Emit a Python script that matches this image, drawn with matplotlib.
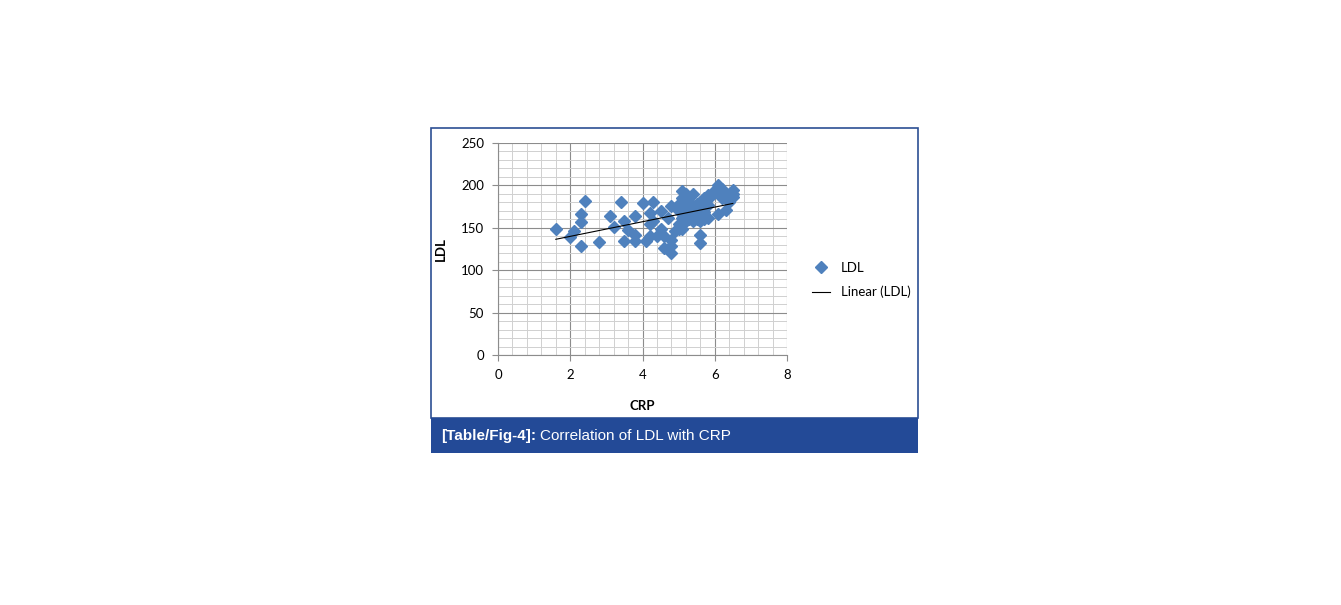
import numpy as np
import matplotlib
matplotlib.use('Agg')
import matplotlib.pyplot as plt
from matplotlib.patches import Rectangle
from matplotlib.lines import Line2D

# CRP vs LDL values
crp = [1.6, 2.0, 2.1, 2.3, 2.3, 2.3, 2.4, 2.8, 3.1, 3.2, 3.4, 3.5, 3.5, 3.6, 3.8, 3.8, 3.8,
       4.0, 4.1, 4.2, 4.2, 4.3, 4.3, 4.2, 4.4, 4.5, 4.5, 4.6, 4.6, 4.7, 4.8, 4.8, 4.8, 4.8,
       4.9, 5.0, 5.1, 5.1, 5.2, 5.2, 5.1, 5.1, 5.1, 5.2, 5.3, 5.4, 5.4, 5.4, 5.5, 5.6, 5.6,
       5.6, 5.6, 5.7, 5.8, 5.8, 5.8, 5.9, 6.1, 6.1, 6.1, 6.2, 6.3, 6.3, 6.5, 6.5, 6.5, 6.4,
       6.2, 6.0, 5.0, 5.1, 5.2, 5.3, 5.3, 5.0, 5.2, 5.3, 5.4, 5.5, 5.5, 5.6, 5.7, 5.7, 5.0, 5.1]
ldl = [149, 139, 146, 129, 157, 166, 182, 133, 164, 151, 180, 158, 135, 147, 164, 141, 134,
       179, 135, 167, 154, 181, 158, 140, 140, 170, 149, 140, 126, 162, 176, 128, 120, 136,
       146, 149, 193, 185, 181, 173, 169, 154, 148, 158, 166, 190, 176, 158, 166, 181, 158,
       142, 132, 169, 189, 177, 162, 188, 200, 193, 166, 185, 171, 188, 195, 186, 190, 181,
       196, 195, 155, 162, 165, 172, 180, 178, 190, 160, 168, 178, 160, 175, 185, 160, 170, 176]

xticks = [0, 2, 4, 6, 8]
yticks = [0, 50, 100, 150, 200, 250]

W, H = 1341, 605
fig = plt.figure(figsize=(W/100, H/100), dpi=100)
fig.patch.set_facecolor('white')

# frame box and caption band (behind the axes)
fig.patches.append(Rectangle((431/W, 1-418/H), 487/W, 290/H, transform=fig.transFigure,
                             facecolor='white', edgecolor='#2c4f94', lw=1.2, zorder=-5))
fig.patches.append(Rectangle((431/W, 1-453/H), 487/W, 35/H, transform=fig.transFigure,
                             facecolor='#234a97', edgecolor='none', zorder=-4))
fig.text(441/W, 1-436/H, '[Table/Fig-4]:', color='white', fontsize=11, fontweight='bold',
         family='Liberation Sans', va='center')
fig.text(540/W, 1-436/H, 'Correlation of LDL with CRP', color='white', fontsize=11,
         family='Liberation Sans', va='center')

ax = fig.add_axes([498/W, 1-355/H, 289/W, 212/H])
ax.patch.set_alpha(0)
ax.set_xlim(0, 8)
ax.set_ylim(0, 250)
ax.set_xticks(xticks)
ax.set_yticks(yticks)
ax.set_xticks(np.arange(0, 8.01, 0.4), minor=True)
ax.set_yticks(np.arange(0, 250.1, 10), minor=True)
ax.grid(which='minor', color='#d0d0d0', lw=0.7)
ax.grid(which='major', color='#8c8c8c', lw=0.8)
ax.set_axisbelow(True)
for s in ['top', 'right']:
    ax.spines[s].set_visible(False)
for s in ['left', 'bottom']:
    ax.spines[s].set_color('#8c8c8c')
ax.tick_params(which='minor', length=0)
ax.tick_params(which='major', length=4, color='#8c8c8c', labelsize=9.5, pad=6)
for lab in ax.get_xticklabels() + ax.get_yticklabels():
    lab.set_family('Lato')

ax.plot(crp, ldl, 'D', color='#4f81bd', ms=6.3, mec='#4f81bd', label='LDL')
m, b = np.polyfit(crp, ldl, 1)
xs = np.array([min(crp), max(crp)])
ax.plot(xs, m*xs + b, color='black', lw=0.8, label='Linear (LDL)')

ax.set_xlabel('CRP', fontsize=9.5, fontweight='bold', family='Lato', labelpad=14)
ax.set_ylabel('LDL', fontsize=9.5, fontweight='bold', family='Lato', labelpad=10)

h = [Line2D([], [], marker='D', ls='none', color='#4f81bd', ms=6.3),
     Line2D([], [], color='black', lw=0.8)]
fig.legend(h, ['LDL', 'Linear (LDL)'], loc='upper left', bbox_to_anchor=(800/W, 1-250/H),
           frameon=False, prop={'family': 'Lato', 'size': 9.5}, handlelength=1.4,
           labelspacing=0.9, handletextpad=0.8)

fig.savefig('out.png', dpi=100)
